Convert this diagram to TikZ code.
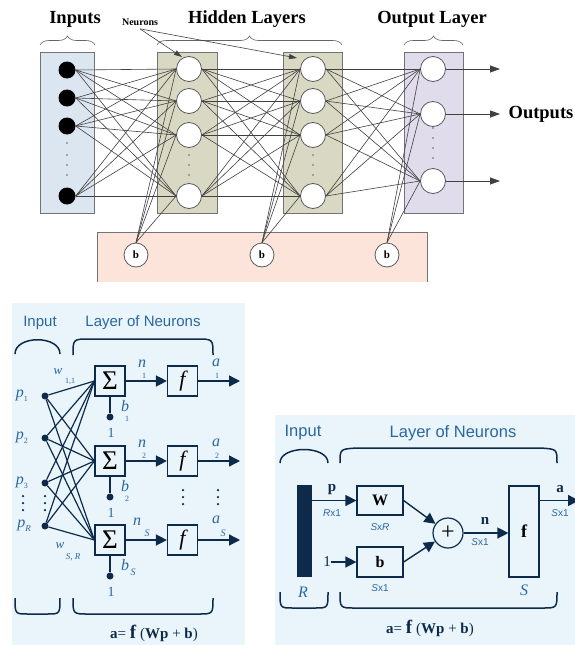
\documentclass[tikz,border=0pt]{standalone}
\usepackage{fontspec}
\setmainfont{Liberation Serif}
\setsansfont{Liberation Sans}
\usetikzlibrary{arrows.meta,decorations.pathreplacing}
\definecolor{inblue}{HTML}{DCE6F0}
\definecolor{hidgreen}{HTML}{D9D9C3}
\definecolor{outlila}{HTML}{E0DCEB}
\definecolor{biaspink}{HTML}{FDE4DA}
\definecolor{panel}{HTML}{E9F5FB}
\definecolor{ink}{HTML}{0E2A4A}
\definecolor{txtblue}{HTML}{2A67A0}
\newcommand{\fsz}[1]{\fontsize{#1}{#1}\selectfont}

\begin{document}
\begin{tikzpicture}[x=1pt,y=-1pt,
    wire/.style={draw=black!75,line width=0.6pt},
    inpnode/.style={circle,fill=black,minimum size=17pt,inner sep=0pt},
    neunode/.style={circle,draw=black!65,fill=white,minimum size=25pt,inner sep=0pt,line width=0.8pt},
    biasnode/.style={neunode,minimum size=24pt,font=\fsz{11}\bfseries},
    layerbox/.style={draw=black!55,line width=0.7pt},
    headline/.style={font=\fsz{18.5}\bfseries},
    dotmark/.style={circle,fill=black!60,inner sep=0pt,minimum size=1.8pt},
    topbrace/.style={decorate,decoration={brace,amplitude=9pt},draw=black!60,line width=0.6pt},
    link/.style={draw=ink,line width=1.4pt},
    linkarrow/.style={link,-{Triangle[length=11pt,width=11pt]}},
    pdot/.style={circle,fill=ink,minimum size=7pt,inner sep=0pt},
    opbox/.style={draw=ink,line width=1.2pt,fill=panel,inner sep=0pt,minimum width=30pt,minimum height=30pt},
    bluetext/.style={text=txtblue,font=\sffamily\fsz{15}},
    itlab/.style={text=txtblue,font=\itshape\fsz{16},inner sep=0pt},
    sublab/.style={text=txtblue,font=\fsz{8},inner sep=0pt},
    dimlab/.style={text=txtblue,font=\sffamily\fsz{10},inner sep=0pt},
    inklab/.style={text=ink,font=\bfseries\fsz{15},inner sep=0pt},
    bracket/.style={draw=ink,line width=1.5pt},
    formula/.style={text=ink,font=\fsz{15}}]
\useasboundingbox (0,0) rectangle (575,645);

% ---------- the network ----------
\draw[layerbox,fill=inblue] (40,52) rectangle (94,213);
\draw[layerbox,fill=hidgreen] (157,52) rectangle (217,213);
\draw[layerbox,fill=hidgreen] (283,52) rectangle (342,213);
\draw[layerbox,fill=outlila] (404,52) rectangle (463,213);
\fill[biaspink] (97,232) rectangle (427,282);
\draw[layerbox] (97,282) -- (97,232) -- (427,232) -- (427,282);

\node[headline] (tInputs) at (75,19) {Inputs};
\node[headline] (tHidden) at (247,19) {Hidden Layers};
\node[headline] (tOutput) at (432,19) {Output Layer};
\node[font=\fsz{10}\bfseries] (tNeurons) at (140,22) {Neurons};
\node[headline] (tOutputs) at (541,114) {Outputs};

\draw[topbrace] (40,45) -- (95,45);
\draw[topbrace] (157,45) -- (342,45);
\draw[topbrace] (404,45) -- (463,45);

\foreach \k/\y in {1/70,2/98,3/126,4/196}
    \node[inpnode] (x\k) at (67,\y) {};
\foreach \k/\y in {1/69,2/101,3/135,4/196} {
    \node[neunode] (h\k) at (189,\y) {};
    \node[neunode] (g\k) at (313,\y) {};
}
\foreach \k/\y in {1/69,2/114,3/181}
    \node[neunode] (o\k) at (433,\y) {};
\foreach \k/\x in {1/136,2/262,3/387}
    \node[biasnode] (b\k) at (\x,255) {b};

\foreach \y in {143,155,165,175}
    \node[dotmark] (dx\y) at (67,\y) {};
\foreach \y in {155,165,175} {
    \node[dotmark] (dh\y) at (189,\y) {};
    \node[dotmark] (dg\y) at (313,\y) {};
}
\foreach \y in {128,138,148,158}
    \node[dotmark] (do\y) at (433,\y) {};

\foreach \a in {1,...,4}
    \foreach \b in {1,...,4} {
        \draw[wire] (x\a.east) -- (h\b.west);
        \draw[wire] (h\a.east) -- (g\b.west);
    }
\foreach \a in {1,...,4}
    \foreach \b in {1,2,3}
        \draw[wire] (g\a.east) -- (o\b.west);
\foreach \b in {1,...,4} {
    \draw[wire] (b1.north) -- (h\b.west);
    \draw[wire] (b2.north) -- (g\b.west);
}
\foreach \b in {1,2,3}
    \draw[wire] (b3.north) -- (o\b.west);

\foreach \k/\y in {1/69,2/114,3/181} {
    \coordinate (oe\k) at (500,\y);
    \draw[wire,line width=0.8pt,-{Triangle[length=10pt,width=7pt]}] (o\k.east) -- (oe\k);
}
\coordinate (nA) at (182,57);
\coordinate (nB) at (297,58);
\draw[wire,-{Triangle[length=8pt,width=5pt]}] (tNeurons.south) -- (nA);
\draw[wire,-{Triangle[length=8pt,width=5pt]}] (tNeurons.south) -- (nB);

% ---------- layer of S neurons ----------
\fill[panel] (12,303) rectangle (245,645);
\node[bluetext] (lInput) at (40,323) {Input};
\node[bluetext] (lLayer) at (143,323) {Layer of Neurons};
\draw[bracket] (15,354) .. controls (15,335) and (60,335) .. (60,354);
\draw[bracket] (73,355) .. controls (73,339) .. (90,339) -- (196,339) .. controls (213,339) .. (213,355);
\draw[bracket] (15,598) .. controls (15,614) .. (28,614) -- (47,614) .. controls (60,614) .. (60,598);
\draw[bracket] (73,598) .. controls (73,614) .. (88,614) -- (198,614) .. controls (213,614) .. (213,598);
\node[formula] (lForm) at (154,633) {\textbf{a}= \textbf{\fsz{19}f} (\textbf{Wp} + \textbf{b})};

\foreach \k/\y in {1/396,2/438,3/483,4/526}
    \node[pdot] (p\k) at (45,\y) {};
\node[itlab] (pl1) at (22,396) {p\raisebox{-4pt}{\fsz{8}\upshape 1}};
\node[itlab] (pl2) at (22,438) {p\raisebox{-4pt}{\fsz{8}\upshape 2}};
\node[itlab] (pl3) at (22,483) {p\raisebox{-4pt}{\fsz{8}\upshape 3}};
\node[itlab] (plR) at (24,526) {p\raisebox{-4pt}{\fsz{9}R}};
\foreach \y in {496,503,510} {
    \node[dotmark,fill=ink,minimum size=2.5pt] (dp\y) at (23,\y) {};
    \node[dotmark,fill=ink,minimum size=2.5pt] (dq\y) at (45,\y) {};
}
\node[itlab,font=\itshape\fsz{13}] (w11) at (58,372) {w};
\node[sublab] (w11s) at (70,381) {1,1};
\node[itlab,font=\itshape\fsz{13}] (wSR) at (60,546) {w};
\node[sublab,font=\itshape\fsz{9}] (wSRs) at (73,557) {S, R};

\foreach \k/\y in {1/381,2/461,3/540} {
    \node[opbox,font=\fsz{27}] (s\k) at (110,\y) {Σ};
    \node[opbox,font=\itshape\fsz{22}] (f\k) at (182.5,\y) {f};
    \node[pdot] (d\k) at (110,\y+36) {};
    \node[text=txtblue,font=\fsz{14},inner sep=0pt] (one\k) at (111,\y+52) {1};
    \node[itlab] (bl\k) at (125,\y+25) {b};
    \coordinate (ae\k) at (240,\y);
    \draw[link] (s\k.south) -- (d\k);
    \draw[linkarrow] (s\k.east) -- (f\k.west);
    \draw[linkarrow] (f\k.east) -- (ae\k);
}
\foreach \k/\y in {1/381,2/461} {
    \node[itlab] (nl\k) at (142,\y-17) {n};
    \node[itlab] (al\k) at (216,\y-18) {a};
    \node[sublab] (bs\k) at (127,\y+38) {\k};
    \node[sublab] (ns\k) at (144,\y-5) {\k};
    \node[sublab] (as\k) at (217,\y-5) {\k};
}
\node[itlab] (nl3) at (137,522) {n};
\node[itlab] (al3) at (216,520) {a};
\node[sublab,font=\itshape\fsz{10}] (bsS) at (133,572) {S};
\node[sublab,font=\itshape\fsz{10}] (nsS) at (147,533) {S};
\node[sublab,font=\itshape\fsz{10}] (asS) at (223,533) {S};
\foreach \y in {490,497,504} {
    \node[dotmark,fill=ink,minimum size=2.5pt] (df\y) at (183,\y) {};
    \node[dotmark,fill=ink,minimum size=2.5pt] (da\y) at (218,\y) {};
}
\foreach \a in {1,...,4}
    \foreach \b in {1,2,3}
        \draw[link,line width=1.2pt] (p\a) -- (s\b.west);

% ---------- matrix form ----------
\fill[panel] (275,415) rectangle (575,645);
\node[bluetext,font=\sffamily\fsz{16.5}] (rInput) at (303,433) {Input};
\node[bluetext,font=\sffamily\fsz{16.5}] (rLayer) at (453,433) {Layer of Neurons};
\draw[bracket] (280,463) .. controls (280,445) and (328,445) .. (328,463);
\draw[bracket] (340,463) .. controls (340,449) .. (357,448) -- (540,448) .. controls (557,449) .. (557,463);
\draw[bracket] (280,592) .. controls (280,608) .. (293,608) -- (315,608) .. controls (328,608) .. (328,592);
\draw[bracket] (340,592) .. controls (340,608) .. (355,608) -- (542,608) .. controls (557,608) .. (557,592);
\node[formula] (rForm) at (430,628) {\textbf{a}= \textbf{\fsz{19}f} (\textbf{Wp} + \textbf{b})};

\node[fill=ink,minimum width=15pt,minimum height=92pt,inner sep=0pt] (rBar) at (304.5,531) {};
\node[opbox,minimum width=46pt,minimum height=29pt,font=\bfseries\fsz{16}] (rW) at (380,500.5) {W};
\node[opbox,minimum width=46pt,minimum height=30pt,font=\bfseries\fsz{16}] (rB) at (380,562) {b};
\node[circle,draw=ink,line width=1.2pt,fill=panel,minimum size=30pt,inner sep=0pt,font=\fsz{24}] (rPlus) at (448,533) {+};
\node[opbox,minimum width=30pt,minimum height=91pt,font=\bfseries\fsz{18}] (rF) at (524,531.5) {f};
\node[inklab,font=\fsz{15}] (rOne) at (327,562) {1};
\coordinate (rOut) at (579,500.5);

\draw[linkarrow] (rBar.east |- rW) -- (rW.west);
\draw[linkarrow] (rOne.east) -- (rB.west);
\draw[linkarrow] (rW.east) -- (rPlus);
\draw[linkarrow] (rB.east) -- (rPlus);
\draw[linkarrow] (rPlus.east) -- (rF.west |- rPlus);
\draw[linkarrow] (rF.east |- rW) -- (rOut);

\node[inklab] (rp) at (332,490) {p};
\node[dimlab] (rpd) at (332,513) {\itshape R\upshape x1};
\node[dimlab] (rWd) at (380,527) {\itshape S\upshape x\itshape R};
\node[dimlab] (rBd) at (380,588) {\itshape S\upshape x1};
\node[inklab] (rn) at (485,521) {n};
\node[dimlab] (rnd) at (480,542) {\itshape S\upshape x1};
\node[inklab] (ra) at (560,489) {a};
\node[dimlab] (rad) at (560,513) {\itshape S\upshape x1};
\node[itlab] (rR) at (303,592) {R};
\node[itlab] (rS) at (524,590) {S};
\end{tikzpicture}
\end{document}
